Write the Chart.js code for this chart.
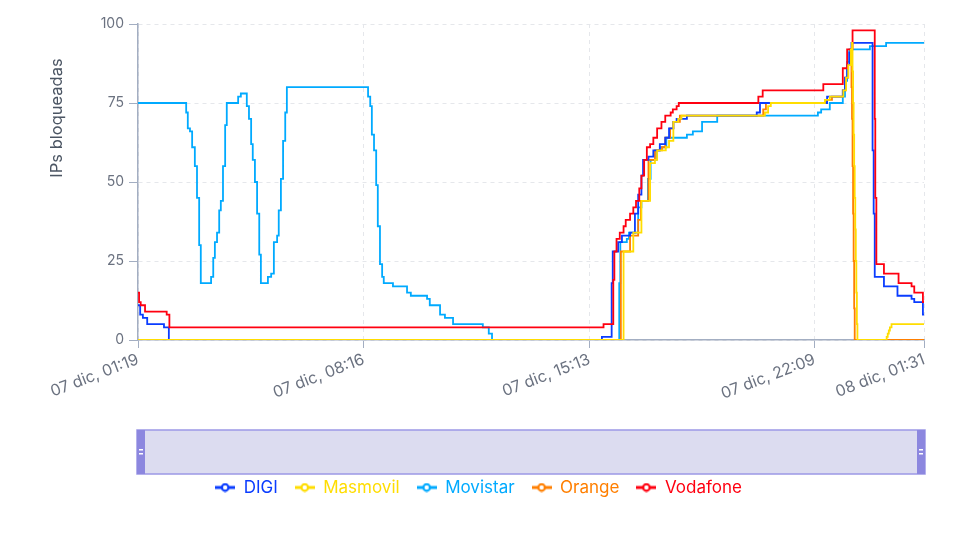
<!DOCTYPE html>
<html lang="es">
<head>
<meta charset="utf-8">
<title>IPs bloqueadas</title>
<script src="https://cdn.jsdelivr.net/npm/chart.js@4.4.1/dist/chart.umd.min.js"></script>
<style>
  html, body { margin: 0; padding: 0; background: #fff; }
  #wrap { position: relative; width: 980px; height: 538px; }
</style>
</head>
<body>
<div id="wrap"><canvas id="ipsChart"></canvas></div>
<script>
// Eje X: minutos desde 07 dic 01:19
const tickMinutes = [0, 417, 834, 1250, 1452];
const tickLabels = ['07 dic, 01:19', '07 dic, 08:16', '07 dic, 15:13', '07 dic, 22:09', '08 dic, 01:31'];
const yTicks = [0, 25, 50, 75, 100];

const operators = ['DIGI', 'Masmovil', 'Movistar', 'Orange', 'Vodafone'];
const colorMap = {
  'DIGI': '#0a3cff',
  'Masmovil': '#ffdd00',
  'Movistar': '#00aaff',
  'Orange': '#ff7f00',
  'Vodafone': '#ff0010'
};

// [minuto, IPs bloqueadas]
const digi = [[0,11],[4,8],[9,7],[17,5],[48,4],[57,0],[857,1],[875,18],[877,28],[887,31],[894,33],[909,34],[918,40],[924,46],[930,52],[933,57],[943,58],[952,60],[964,62],[974,64],[981,67],[989,69],[995,70],[1014,71],[1143,72],[1149,75],[1273,77],[1302,79],[1306,83],[1310,87],[1314,91],[1318,94],[1357,60],[1359,40],[1361,20],[1378,17],[1403,14],[1429,13],[1434,12],[1450,8],[1452,8]];
const masmovil = [[0,0],[897,28],[915,34],[930,44],[946,56],[955,57],[959,60],[975,61],[981,63],[989,69],[998,70],[1004,71],[1158,72],[1164,74],[1169,75],[1269,76],[1278,77],[1303,79],[1308,83],[1312,87],[1317,92],[1319,94],[1320,85],[1321,75],[1322,65],[1323,55],[1324,45],[1325,35],[1326,25],[1327,15],[1328,5],[1329,0],[1383,1],[1385,2],[1387,3],[1389,4],[1392,5],[1452,5]];
const movistar = [[0,75],[89,72],[92,67],[96,66],[100,61],[105,55],[109,45],[113,30],[116,18],[135,20],[139,26],[142,31],[146,34],[150,41],[153,44],[157,55],[161,68],[164,75],[185,77],[190,78],[201,74],[205,70],[209,62],[212,57],[216,50],[220,40],[224,27],[227,18],[240,20],[246,21],[251,31],[257,33],[260,41],[264,51],[268,63],[272,72],[275,80],[425,77],[429,74],[432,65],[436,60],[440,49],[443,36],[447,24],[451,20],[454,18],[471,17],[497,15],[504,14],[534,13],[539,11],[558,8],[567,7],[582,5],[637,4],[648,2],[654,0],[889,18],[891,31],[903,32],[907,34],[924,42],[930,44],[942,51],[947,57],[958,60],[964,61],[976,64],[1014,65],[1025,66],[1042,69],[1070,71],[1256,72],[1262,73],[1278,75],[1302,77],[1306,82],[1310,88],[1314,92],[1352,93],[1382,94],[1452,94]];
const orange = [[0,0],[892,28],[909,33],[924,38],[929,44],[943,57],[955,60],[968,61],[974,64],[983,67],[989,69],[1001,71],[1155,73],[1160,75],[1271,76],[1282,77],[1302,79],[1307,83],[1312,87],[1316,92],[1318,80],[1319,70],[1320,55],[1321,40],[1322,25],[1323,10],[1324,0],[1452,0]];
const vodafone = [[0,15],[2,12],[5,11],[13,9],[53,8],[58,4],[860,5],[878,19],[880,28],[884,32],[890,34],[897,36],[901,38],[909,40],[915,42],[920,44],[926,48],[930,52],[935,57],[940,61],[946,62],[952,64],[959,67],[967,69],[974,71],[984,72],[988,73],[995,74],[999,75],[1146,77],[1154,79],[1266,81],[1302,86],[1310,92],[1320,98],[1361,70],[1362,45],[1364,24],[1378,21],[1405,18],[1429,17],[1434,15],[1450,12],[1452,12]];

const seriesData = [digi, masmovil, movistar, orange, vodafone];
// orden de dibujo (0 = encima)
const drawOrder = [2, 0, 4, 3, 1];

// icono de la leyenda: línea con círculo hueco
function legendIcon(color) {
  const c = document.createElement('canvas');
  c.width = 20; c.height = 10;
  const g = c.getContext('2d');
  g.strokeStyle = color;
  g.lineWidth = 3;
  g.beginPath(); g.moveTo(0, 5); g.lineTo(20, 5); g.stroke();
  g.fillStyle = '#fff';
  g.lineWidth = 2.2;
  g.beginPath(); g.arc(10, 5, 3.3, 0, Math.PI * 2); g.fill(); g.stroke();
  return c;
}

// slider (zoom) y título del eje Y
const extrasPlugin = {
  id: 'extras',
  afterDraw(chart) {
    const ctx = chart.ctx;
    const a = chart.chartArea;
    ctx.save();
    // título eje Y
    ctx.translate(a.left - 81, a.top + 94);
    ctx.rotate(-Math.PI / 2);
    ctx.font = '16.5px Inter';
    ctx.fillStyle = '#4b5563';
    ctx.textAlign = 'center';
    ctx.textBaseline = 'middle';
    ctx.fillText('IPs bloqueadas', 0, 0);
    ctx.restore();

    // slider
    const x0 = a.left - 1, x1 = a.right + 1;
    const y0 = a.bottom + 90, h = 44;
    ctx.save();
    ctx.fillStyle = '#dcdcf0';
    ctx.fillRect(x0, y0, x1 - x0, h);
    ctx.strokeStyle = '#9c98e6';
    ctx.lineWidth = 1.5;
    ctx.strokeRect(x0, y0, x1 - x0, h);
    ctx.fillStyle = '#8c87df';
    ctx.fillRect(x0, y0, 8, h);
    ctx.fillRect(x1 - 8, y0, 8, h);
    ctx.fillStyle = '#fff';
    [x0 + 2, x1 - 6].forEach(hx => {
      ctx.fillRect(hx, y0 + h / 2 - 3, 4, 1.5);
      ctx.fillRect(hx, y0 + h / 2 + 1, 4, 1.5);
    });
    ctx.restore();
  }
};

Chart.defaults.font.family = 'Inter';

new Chart(document.getElementById('ipsChart').getContext('2d'), {
  type: 'line',
  data: {
    datasets: operators.map((name, i) => ({
      label: name,
      data: seriesData[i].map(p => ({ x: p[0], y: p[1] })),
      borderColor: colorMap[name],
      backgroundColor: colorMap[name],
      borderWidth: 1.8,
      pointRadius: 0,
      stepped: true,
      fill: false,
      order: drawOrder[i]
    }))
  },
  options: {
    responsive: true,
    maintainAspectRatio: false,
    animation: false,
    layout: { padding: { left: 33, right: 56, top: 24, bottom: 32 } },
    plugins: {
      tooltip: { enabled: false },
      legend: {
        position: 'bottom',
        labels: {
          usePointStyle: true,
          pointStyleWidth: 20,
          padding: 17,
          font: { size: 17 },
          sort: (a, b) => a.datasetIndex - b.datasetIndex,
          generateLabels(chart) {
            return chart.data.datasets.map((ds, i) => ({
              text: ds.label,
              fontColor: ds.borderColor,
              fillStyle: ds.borderColor,
              strokeStyle: ds.borderColor,
              lineWidth: 0,
              pointStyle: legendIcon(ds.borderColor),
              hidden: !chart.isDatasetVisible(i),
              datasetIndex: i
            }));
          }
        }
      }
    },
    scales: {
      x: {
        type: 'linear',
        min: tickMinutes[0],
        max: tickMinutes[tickMinutes.length - 1],
        afterBuildTicks: scale => { scale.ticks = tickMinutes.map(v => ({ value: v })); },
        afterFit: scale => { scale.height = 122; },
        ticks: {
          autoSkip: false,
          minRotation: 21,
          maxRotation: 21,
          padding: 2,
          color: '#6b7280',
          font: { size: 16 },
          callback: (value, index) => tickLabels[index]
        },
        grid: { color: '#e5e7eb', tickColor: '#a3aec2', tickLength: 8 },
        border: { color: '#a3aec2', width: 1.5, dash: [4, 4] }
      },
      y: {
        min: 0,
        max: 100,
        afterBuildTicks: scale => { scale.ticks = yTicks.map(v => ({ value: v })); },
        afterFit: scale => { scale.width = 105; },
        ticks: { color: '#6b7280', font: { size: 14 }, padding: 5 },
        grid: { color: '#e5e7eb', tickColor: '#a3aec2', tickLength: 9 },
        border: { color: '#a3aec2', width: 1.5, dash: [4, 4] }
      }
    }
  },
  plugins: [extrasPlugin]
});
</script>
</body>
</html>
